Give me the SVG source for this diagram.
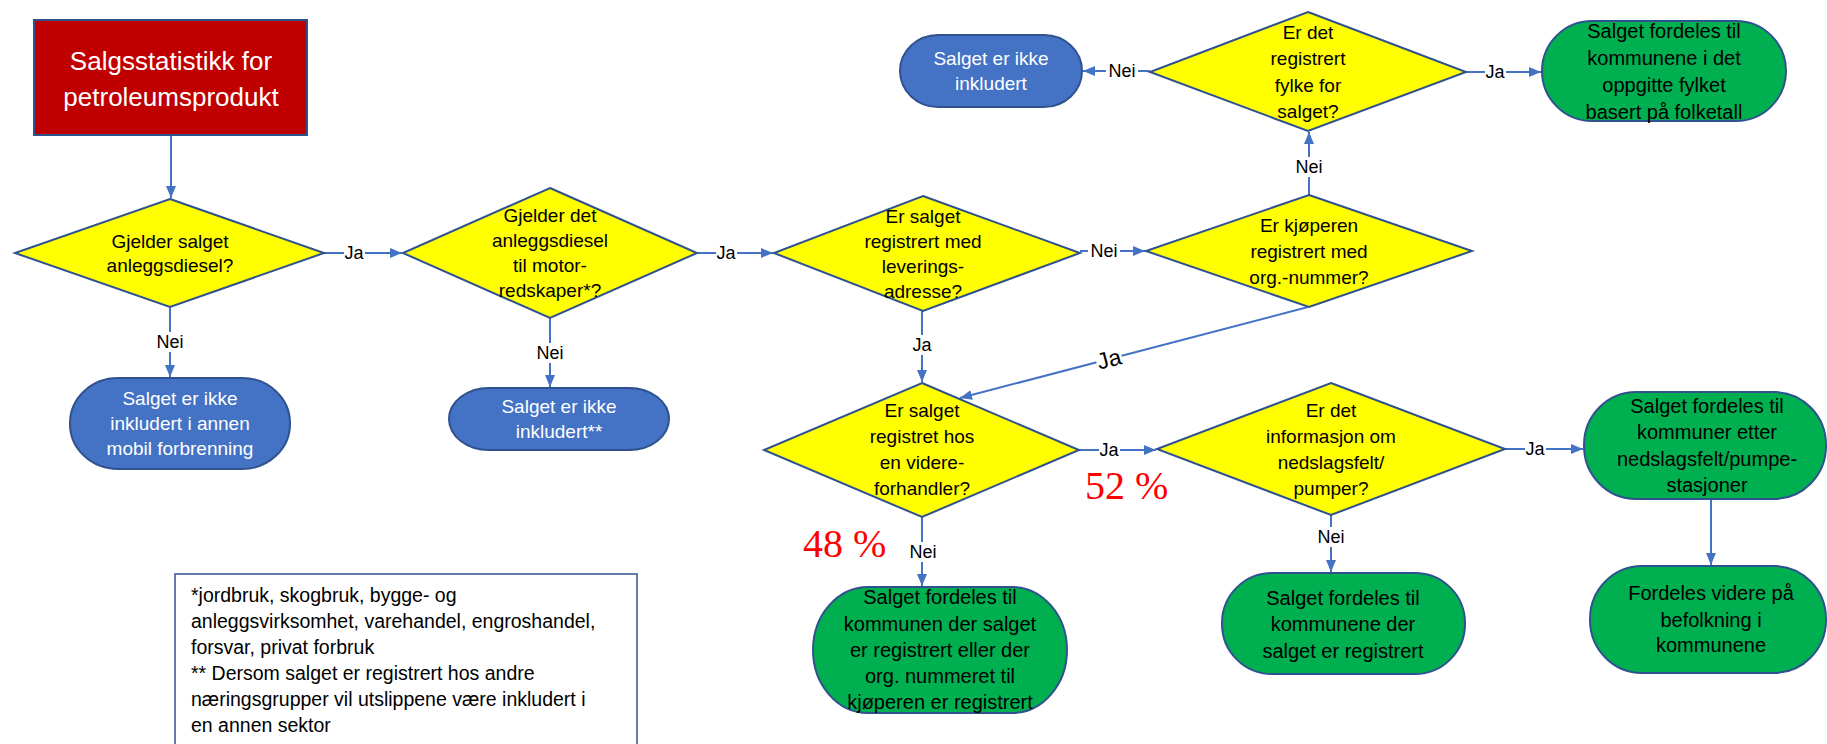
<svg xmlns="http://www.w3.org/2000/svg" width="1827" height="744" viewBox="0 0 1827 744">
<style>
.t{font-family:"Liberation Sans",Arial,sans-serif;text-anchor:middle}
.w{fill:#ffffff;font-size:19px}
.k{fill:#000000;font-size:19px}
.g{fill:#000000;font-size:20px}
.dia{fill:#FFFF00;stroke:#2F528F;stroke-width:2}
.blue{fill:#4472C4;stroke:#2F528F;stroke-width:2}
.green{fill:#00B050;stroke:#2F528F;stroke-width:2}
.con{stroke:#4472C4;stroke-width:2;fill:none;marker-end:url(#ah)}
.lbl{font-family:"Liberation Sans",Arial,sans-serif;font-size:18px;fill:#000;text-anchor:middle;dominant-baseline:central}
.bg{fill:#ffffff}
.pct{font-family:"Liberation Serif","Times New Roman",serif;font-size:40px;fill:#FF0000}
</style>
<defs>
<marker id="ah" markerUnits="userSpaceOnUse" markerWidth="12" markerHeight="10" refX="12" refY="5" orient="auto">
<path d="M0,0 L12,5 L0,10 z" fill="#4472C4"/>
</marker>
</defs>
<rect width="1827" height="744" fill="#ffffff"/>

<g id="connectors">
<line class="con" x1="171" y1="135" x2="171" y2="198"/>
<line class="con" x1="324" y1="253" x2="402" y2="253"/>
<line class="con" x1="170" y1="307" x2="170" y2="377"/>
<line class="con" x1="550" y1="318" x2="550" y2="387"/>
<line class="con" x1="697" y1="253" x2="773" y2="253"/>
<line class="con" x1="1080" y1="251" x2="1145" y2="251"/>
<line class="con" x1="1309" y1="195" x2="1309" y2="132"/>
<line class="con" x1="1150" y1="71" x2="1083" y2="71"/>
<line class="con" x1="1466" y1="72" x2="1541" y2="72"/>
<line class="con" x1="922" y1="311" x2="922" y2="382"/>
<line class="con" x1="1308" y1="307" x2="960" y2="398"/>
<line class="con" x1="1079" y1="450" x2="1156" y2="450"/>
<line class="con" x1="922" y1="517" x2="922" y2="586"/>
<line class="con" x1="1331" y1="515" x2="1331" y2="572"/>
<line class="con" x1="1505" y1="449" x2="1583" y2="449"/>
<line class="con" x1="1711" y1="499" x2="1711" y2="565"/>
<g id="labels">
<rect class="bg" x="344" y="243" width="21" height="20"/><text class="lbl" x="354" y="253">Ja</text>
<rect class="bg" x="154" y="332" width="32" height="20"/><text class="lbl" x="170" y="342">Nei</text>
<rect class="bg" x="534" y="343" width="32" height="20"/><text class="lbl" x="550" y="353">Nei</text>
<rect class="bg" x="716" y="243" width="21" height="20"/><text class="lbl" x="726" y="253">Ja</text>
<rect class="bg" x="1088" y="241" width="32" height="20"/><text class="lbl" x="1104" y="251">Nei</text>
<rect class="bg" x="1293" y="157" width="32" height="20"/><text class="lbl" x="1309" y="167">Nei</text>
<rect class="bg" x="1106" y="61" width="32" height="20"/><text class="lbl" x="1122" y="71">Nei</text>
<rect class="bg" x="1485" y="62" width="21" height="20"/><text class="lbl" x="1495" y="72">Ja</text>
<rect class="bg" x="912" y="335" width="21" height="20"/><text class="lbl" x="922" y="345">Ja</text>
<g transform="translate(1109,359) rotate(-15)"><rect class="bg" x="-13" y="-13" width="26" height="26"/><text class="lbl" x="0" y="0" style="font-size:23px">Ja</text></g>
<rect class="bg" x="1099" y="440" width="21" height="20"/><text class="lbl" x="1109" y="450">Ja</text>
<rect class="bg" x="907" y="542" width="32" height="20"/><text class="lbl" x="923" y="552">Nei</text>
<rect class="bg" x="1315" y="527" width="32" height="20"/><text class="lbl" x="1331" y="537">Nei</text>
<rect class="bg" x="1525" y="439" width="21" height="20"/><text class="lbl" x="1535" y="449">Ja</text>
</g>
</g>

<g id="start">
<rect x="34" y="20" width="273" height="115" fill="#C00000" stroke="#2F528F" stroke-width="2"/>
<text class="t" x="171" y="70" fill="#ffffff" font-size="26">Salgsstatistikk for</text>
<text class="t" x="171" y="106" fill="#ffffff" font-size="26">petroleumsprodukt</text>
</g>

<g id="d1">
<polygon class="dia" points="170,199 324,253 170,307 15,253"/>
<text class="t k" x="170" y="248">Gjelder salget</text>
<text class="t k" x="170" y="272">anleggsdiesel?</text>
</g>

<g id="b1">
<rect class="blue" x="70" y="378" width="220" height="91" rx="48" ry="45"/>
<text class="t w" x="180" y="405">Salget er ikke</text>
<text class="t w" x="180" y="430">inkludert i annen</text>
<text class="t w" x="180" y="455">mobil forbrenning</text>
</g>

<g id="d2">
<polygon class="dia" points="550,188 697,253 550,318 403,253"/>
<text class="t k" x="550" y="222">Gjelder det</text>
<text class="t k" x="550" y="247">anleggsdiesel</text>
<text class="t k" x="550" y="272">til motor-</text>
<text class="t k" x="550" y="297">redskaper*?</text>
</g>

<g id="b2">
<rect class="blue" x="449" y="388" width="220" height="62" rx="40" ry="31"/>
<text class="t w" x="559" y="413">Salget er ikke</text>
<text class="t w" x="559" y="438">inkludert**</text>
</g>

<g id="d3">
<polygon class="dia" points="923,196 1080,253 923,311 774,253"/>
<text class="t k" x="923" y="223">Er salget</text>
<text class="t k" x="923" y="248">registrert med</text>
<text class="t k" x="923" y="273">leverings-</text>
<text class="t k" x="923" y="298">adresse?</text>
</g>

<g id="d4">
<polygon class="dia" points="1309,195 1472,251 1309,307 1146,251"/>
<text class="t k" x="1309" y="232">Er kjøperen</text>
<text class="t k" x="1309" y="258">registrert med</text>
<text class="t k" x="1309" y="284">org.-nummer?</text>
</g>

<g id="d7">
<polygon class="dia" points="1308,12 1466,72 1308,131 1150,72"/>
<text class="t k" x="1308" y="39">Er det</text>
<text class="t k" x="1308" y="65">registrert</text>
<text class="t k" x="1308" y="92">fylke for</text>
<text class="t k" x="1308" y="118">salget?</text>
</g>

<g id="b3">
<rect class="blue" x="900" y="35" width="182" height="72" rx="38" ry="36"/>
<text class="t w" x="991" y="65">Salget er ikke</text>
<text class="t w" x="991" y="90">inkludert</text>
</g>

<g id="g0">
<rect class="green" x="1542" y="21" width="244" height="100" rx="50" ry="50"/>
<text class="t g" x="1664" y="38">Salget fordeles til</text>
<text class="t g" x="1664" y="65">kommunene i det</text>
<text class="t g" x="1664" y="92">oppgitte fylket</text>
<text class="t g" x="1664" y="119">basert på folketall</text>
</g>

<g id="d5">
<polygon class="dia" points="922,383 1079,450 922,517 764,450"/>
<text class="t k" x="922" y="417">Er salget</text>
<text class="t k" x="922" y="443">registret hos</text>
<text class="t k" x="922" y="469">en videre-</text>
<text class="t k" x="922" y="495">forhandler?</text>
</g>

<g id="d6">
<polygon class="dia" points="1331,383 1505,449 1331,515 1157,449"/>
<text class="t k" x="1331" y="417">Er det</text>
<text class="t k" x="1331" y="443">informasjon om</text>
<text class="t k" x="1331" y="469">nedslagsfelt/</text>
<text class="t k" x="1331" y="495">pumper?</text>
</g>

<g id="g1">
<rect class="green" x="813" y="587" width="254" height="126" rx="55" ry="63"/>
<text class="t g" x="940" y="604">Salget fordeles til</text>
<text class="t g" x="940" y="631">kommunen der salget</text>
<text class="t g" x="940" y="657">er registrert eller der</text>
<text class="t g" x="940" y="683">org. nummeret til</text>
<text class="t g" x="940" y="709">kjøperen er registrert</text>
</g>

<g id="g2">
<rect class="green" x="1222" y="573" width="243" height="101" rx="50" ry="50"/>
<text class="t g" x="1343" y="605">Salget fordeles til</text>
<text class="t g" x="1343" y="631">kommunene der</text>
<text class="t g" x="1343" y="658">salget er registrert</text>
</g>

<g id="g3">
<rect class="green" x="1584" y="392" width="242" height="107" rx="52" ry="53"/>
<text class="t g" x="1707" y="413">Salget fordeles til</text>
<text class="t g" x="1707" y="439">kommuner etter</text>
<text class="t g" x="1707" y="466">nedslagsfelt/pumpe-</text>
<text class="t g" x="1707" y="492">stasjoner</text>
</g>

<g id="g4">
<rect class="green" x="1590" y="566" width="236" height="107" rx="52" ry="53"/>
<text class="t g" x="1711" y="600">Fordeles videre på</text>
<text class="t g" x="1711" y="627">befolkning i</text>
<text class="t g" x="1711" y="652">kommunene</text>
</g>

<g id="pct">
<text class="pct" x="1085" y="499">52 %</text>
<text class="pct" x="803" y="557">48 %</text>
</g>

<g id="notes">
<rect x="175" y="574" width="462" height="190" fill="#ffffff" stroke="#2F528F" stroke-width="1.5"/>
<g font-family="'Liberation Sans',Arial,sans-serif" font-size="19.5" fill="#000">
<text x="191" y="602">*jordbruk, skogbruk, bygge- og</text>
<text x="191" y="628">anleggsvirksomhet, varehandel, engroshandel,</text>
<text x="191" y="654">forsvar, privat forbruk</text>
<text x="191" y="680">** Dersom salget er registrert hos andre</text>
<text x="191" y="706">næringsgrupper vil utslippene være inkludert i</text>
<text x="191" y="732">en annen sektor</text>
</g>
</g>
</svg>
